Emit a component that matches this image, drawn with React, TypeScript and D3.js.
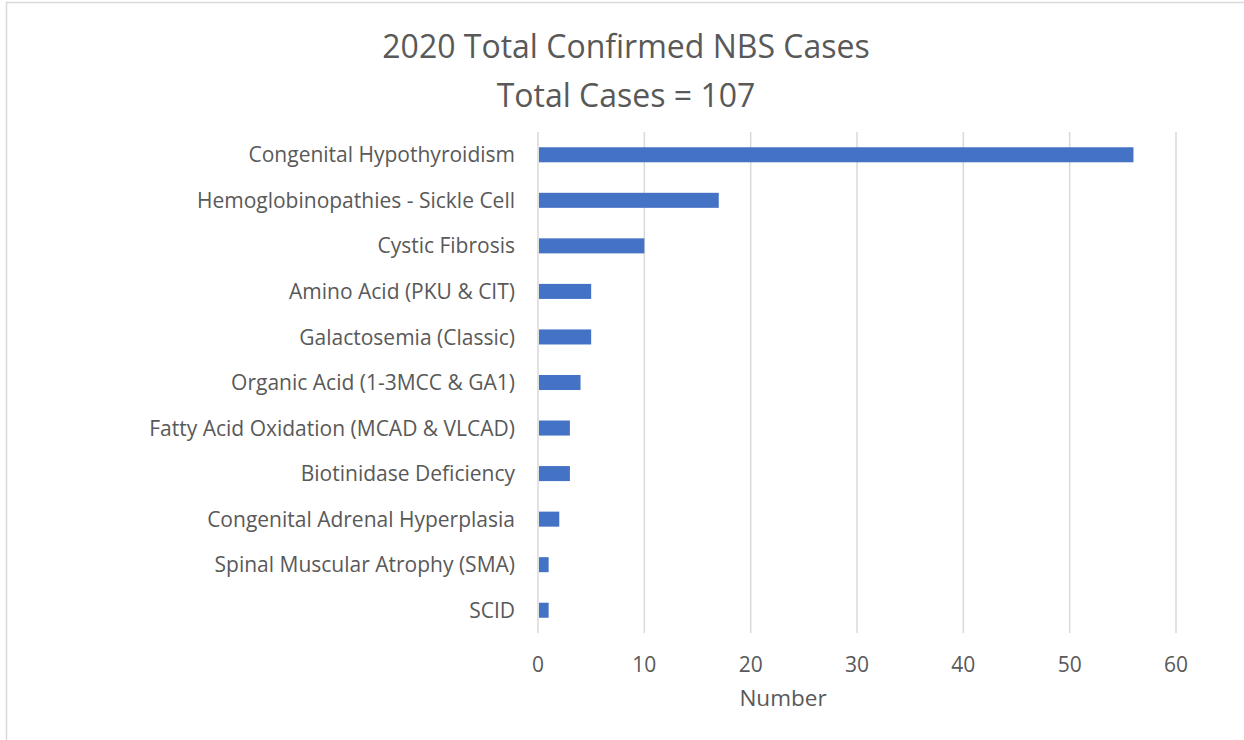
import React, { useEffect, useRef } from "react";
import * as d3 from "d3";

const categories = [
  "Congenital Hypothyroidism",
  "Hemoglobinopathies - Sickle Cell",
  "Cystic Fibrosis",
  "Amino Acid (PKU & CIT)",
  "Galactosemia (Classic)",
  "Organic Acid (1-3MCC & GA1)",
  "Fatty Acid Oxidation (MCAD & VLCAD)",
  "Biotinidase Deficiency",
  "Congenital Adrenal Hyperplasia",
  "Spinal Muscular Atrophy (SMA)",
  "SCID",
];
const cases = [56, 17, 10, 5, 5, 4, 3, 3, 2, 1, 1];
const xTicks = [0, 10, 20, 30, 40, 50, 60];
const titleLines = ["2020 Total Confirmed NBS Cases", "Total Cases = 107"];
const axisTitle = "Number";

const W = 1244;
const H = 740;
const FONT = "'Open Sans', sans-serif";
const TEXT = "#595959";

export default function App() {
  const ref = useRef<SVGSVGElement>(null);

  useEffect(() => {
    const svg = d3.select(ref.current);
    svg.selectAll("*").remove();

    const margin = { top: 132, right: 68, bottom: 107, left: 538 };
    const width = W - margin.left - margin.right;
    const height = H - margin.top - margin.bottom;

    // chart area border
    svg
      .append("rect")
      .attr("x", 6.5)
      .attr("y", 2.5)
      .attr("width", W + 20)
      .attr("height", H + 20)
      .attr("fill", "white")
      .attr("stroke", "#d9d9d9")
      .attr("stroke-width", 1.5);

    const g = svg
      .append("g")
      .attr("transform", `translate(${margin.left},${margin.top})`);

    const x = d3.scaleLinear().domain([0, 60]).range([0, width]);
    const y = d3
      .scaleBand()
      .domain(categories)
      .range([0, height])
      .paddingInner(0.67)
      .paddingOuter(0.335);

    // gridlines
    g.append("g")
      .selectAll("line")
      .data(xTicks)
      .enter()
      .append("line")
      .attr("x1", (d) => x(d))
      .attr("x2", (d) => x(d))
      .attr("y1", 0)
      .attr("y2", height)
      .attr("stroke", "#d9d9d9")
      .attr("stroke-width", 1.5);

    // bars
    g.append("g")
      .selectAll("rect")
      .data(cases)
      .enter()
      .append("rect")
      .attr("x", x(0) + 1)
      .attr("y", (d, i) => y(categories[i])!)
      .attr("width", (d) => x(d) - x(0) - 1)
      .attr("height", y.bandwidth())
      .attr("fill", "#4472C4");

    // category labels
    g.append("g")
      .selectAll("text")
      .data(categories)
      .enter()
      .append("text")
      .attr("x", -23)
      .attr("y", (d) => y(d)! + y.bandwidth() / 2)
      .attr("dy", "0.36em")
      .attr("text-anchor", "end")
      .attr("fill", TEXT)
      .style("font-family", FONT)
      .style("font-size", "21px")
      .text((d) => d);

    // x tick labels
    g.append("g")
      .selectAll("text")
      .data(xTicks)
      .enter()
      .append("text")
      .attr("x", (d) => x(d))
      .attr("y", 672 - margin.top)
      .attr("text-anchor", "middle")
      .attr("fill", TEXT)
      .style("font-family", FONT)
      .style("font-size", "21px")
      .text((d) => d);

    // axis title
    svg
      .append("text")
      .attr("x", 783)
      .attr("y", 706)
      .attr("text-anchor", "middle")
      .attr("fill", TEXT)
      .style("font-family", FONT)
      .style("font-size", "22.5px")
      .text(axisTitle);

    // title
    svg
      .append("g")
      .selectAll("text")
      .data(titleLines)
      .enter()
      .append("text")
      .attr("x", 626)
      .attr("y", (d, i) => 58 + i * 49)
      .attr("text-anchor", "middle")
      .attr("fill", TEXT)
      .style("font-family", FONT)
      .style("font-size", "32px")
      .text((d) => d);
  }, []);

  return (
    <svg
      ref={ref}
      width={W}
      height={H}
      style={{ position: "absolute", left: 0, top: 0, background: "white" }}
    />
  );
}
